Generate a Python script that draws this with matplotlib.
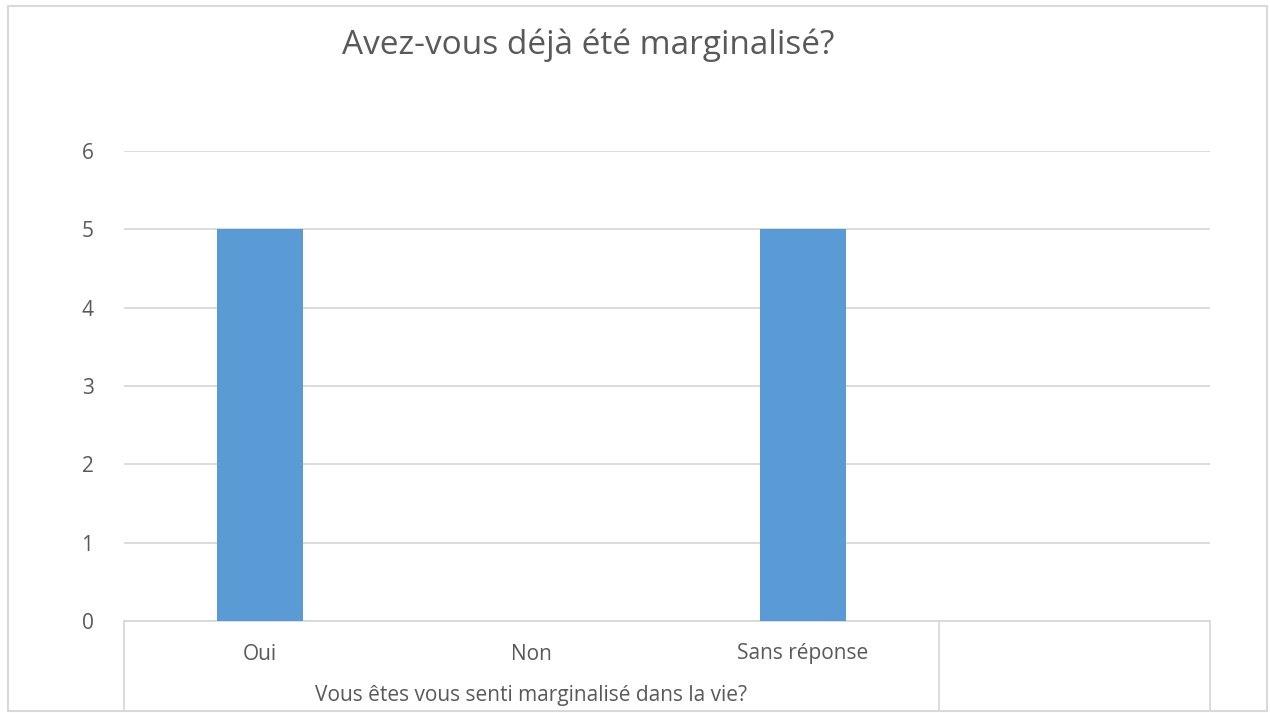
import matplotlib.pyplot as plt
from matplotlib.patches import Rectangle
from matplotlib.transforms import blended_transform_factory

categories = ["Oui", "Non", "Sans réponse", ""]
values = [5, 0, 5, 0]
group_label = "Vous êtes vous senti marginalisé dans la vie?"
title = "Avez-vous déjà été marginalisé?"
yticks = [0, 1, 2, 3, 4, 5, 6]

plt.rcParams['font.family'] = ['Open Sans', 'DejaVu Sans']
text_color = "#595959"
grid_color = "#D9D9D9"
bar_color = "#5B9BD5"

W, H = 1270, 713
fig = plt.figure(figsize=(W / 100, H / 100), dpi=100)
ax = fig.add_axes([124 / W, 1 - 621 / H, (1210 - 124) / W, (621 - 151) / H])

x = list(range(len(categories)))
ax.bar(x[:3], values[:3], width=0.315, color=bar_color, zorder=3)

ax.set_xlim(-0.5, len(categories) - 0.5)
ax.set_ylim(0, 6)
ax.set_yticks(yticks)
ax.set_yticklabels([str(t) for t in yticks])
ax.tick_params(axis='y', length=0, pad=22, labelsize=15, labelcolor=text_color)
ax.set_xticks([])
for s in ax.spines.values():
    s.set_visible(False)
ax.yaxis.grid(True, color=grid_color, linewidth=1.3, zorder=0)

# multi-level category axis
tr = blended_transform_factory(ax.transData, ax.transAxes)
depth = -(711 - 621) / (621 - 151)
for xv in [-0.5, 2.5, 3.5]:
    ax.plot([xv, xv], [0, depth], color=grid_color, linewidth=1.3,
            transform=tr, clip_on=False)
ax.plot([-0.5, 3.5], [0, 0], color=grid_color, linewidth=1.3,
        transform=tr, clip_on=False)
for xv, lab in zip(x, categories):
    ax.text(xv, -33 / 470, lab, transform=tr, ha='center', va='center',
            fontsize=15, color=text_color)
ax.text(1.0, -75 / 470, group_label, transform=tr, ha='center', va='center',
        fontsize=15, color=text_color)

fig.text(588 / W, 1 - 45 / H, title, ha='center', va='center',
         fontsize=24, color=text_color)

# outer chart border
fig.patches.append(Rectangle((8 / W, 1 - 711 / H), (1267 - 8) / W, (711 - 6) / H,
                             transform=fig.transFigure, fill=False,
                             edgecolor=grid_color, linewidth=1.5))

fig.savefig("out.png", dpi=100)
